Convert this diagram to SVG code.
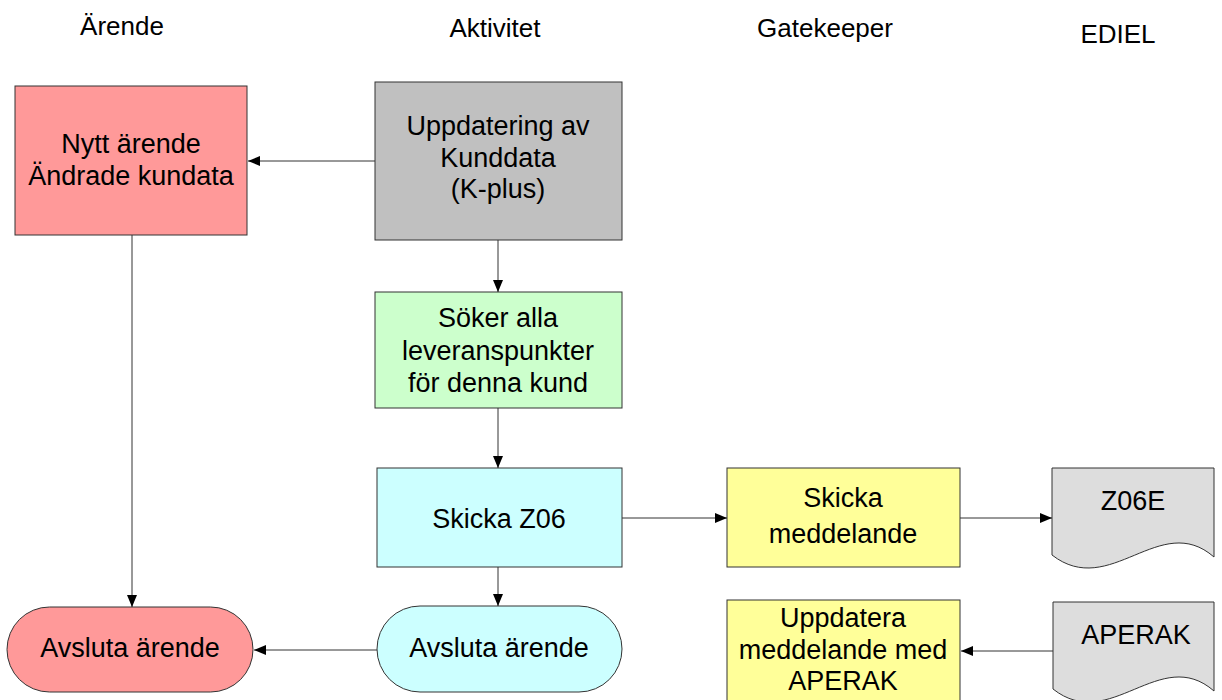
<svg xmlns="http://www.w3.org/2000/svg" width="1222" height="700" viewBox="0 0 1222 700">
<defs>
<marker id="ah" markerWidth="12" markerHeight="10" refX="12" refY="5" orient="auto" markerUnits="userSpaceOnUse">
<path d="M0,0 L12,5 L0,10 Z" fill="#000"/>
</marker>
<style>
text{font-family:"Liberation Sans",Arial,sans-serif;font-size:27px;fill:#000;text-anchor:middle}
.hd{font-size:26px}
.box{stroke:#333;stroke-width:1}
.red{fill:#FF9999}.gray{fill:#C0C0C0}.green{fill:#CCFFCC}.cyan{fill:#CCFFFF}.yellow{fill:#FFFF99}.doc{fill:#DDDDDD}
.conn line{stroke:#333;stroke-width:1;marker-end:url(#ah)}
</style>
</defs>
<rect width="1222" height="700" fill="#fff"/>
<g id="headers">
<text class="hd" x="122" y="35">Ärende</text>
<text class="hd" x="495" y="37">Aktivitet</text>
<text class="hd" x="825" y="37">Gatekeeper</text>
<text class="hd" x="1118" y="43">EDIEL</text>
</g>
<g id="nytt">
<rect class="box red" x="15" y="86" width="232" height="149"/>
<text x="131" y="153">Nytt ärende</text>
<text x="131" y="185">Ändrade kundata</text>
</g>
<g id="uppdatering">
<rect class="box gray" x="375" y="82" width="247" height="158"/>
<text x="498" y="135">Uppdatering av</text>
<text x="498" y="167">Kunddata</text>
<text x="498" y="198">(K-plus)</text>
</g>
<g id="soker">
<rect class="box green" x="375" y="292" width="247" height="116"/>
<text x="498" y="327">Söker alla</text>
<text x="498" y="360">leveranspunkter</text>
<text x="498" y="392">för denna kund</text>
</g>
<g id="skickaz06">
<rect class="box cyan" x="377" y="468" width="245" height="99"/>
<text x="499" y="528">Skicka Z06</text>
</g>
<g id="avsluta2">
<rect class="box cyan" x="377" y="606" width="245" height="86" rx="43" ry="43"/>
<text x="499" y="657">Avsluta ärende</text>
</g>
<g id="avsluta1">
<rect class="box red" x="7" y="607" width="246" height="85" rx="42.5" ry="42.5"/>
<text x="130" y="657">Avsluta ärende</text>
</g>
<g id="skickameddelande">
<rect class="box yellow" x="727" y="468" width="233" height="99"/>
<text x="843" y="507">Skicka</text>
<text x="843" y="543">meddelande</text>
</g>
<g id="uppdatera">
<rect class="box yellow" x="727" y="600" width="233" height="110"/>
<text x="843" y="627">Uppdatera</text>
<text x="843" y="659">meddelande med</text>
<text x="843" y="690">APERAK</text>
</g>
<g id="z06e">
<path class="box doc" d="M1052,468 H1214 V557 C1160,510 1110,600 1052,555 Z"/>
<text x="1133" y="510">Z06E</text>
</g>
<g id="aperak">
<path class="box doc" d="M1053,602 H1214 V691 C1160,644 1110,734 1053,689 Z"/>
<text x="1136" y="644">APERAK</text>
</g>
<g id="connectors" class="conn">
<line x1="375" y1="161" x2="248" y2="161"/>
<line x1="498" y1="240" x2="498" y2="292"/>
<line x1="498" y1="408" x2="498" y2="468"/>
<line x1="498" y1="567" x2="498" y2="606"/>
<line x1="132" y1="235" x2="132" y2="607"/>
<line x1="377" y1="650" x2="254" y2="650"/>
<line x1="622" y1="518" x2="727" y2="518"/>
<line x1="960" y1="518" x2="1052" y2="518"/>
<line x1="1053" y1="651" x2="961" y2="651"/>
</g>
</svg>
